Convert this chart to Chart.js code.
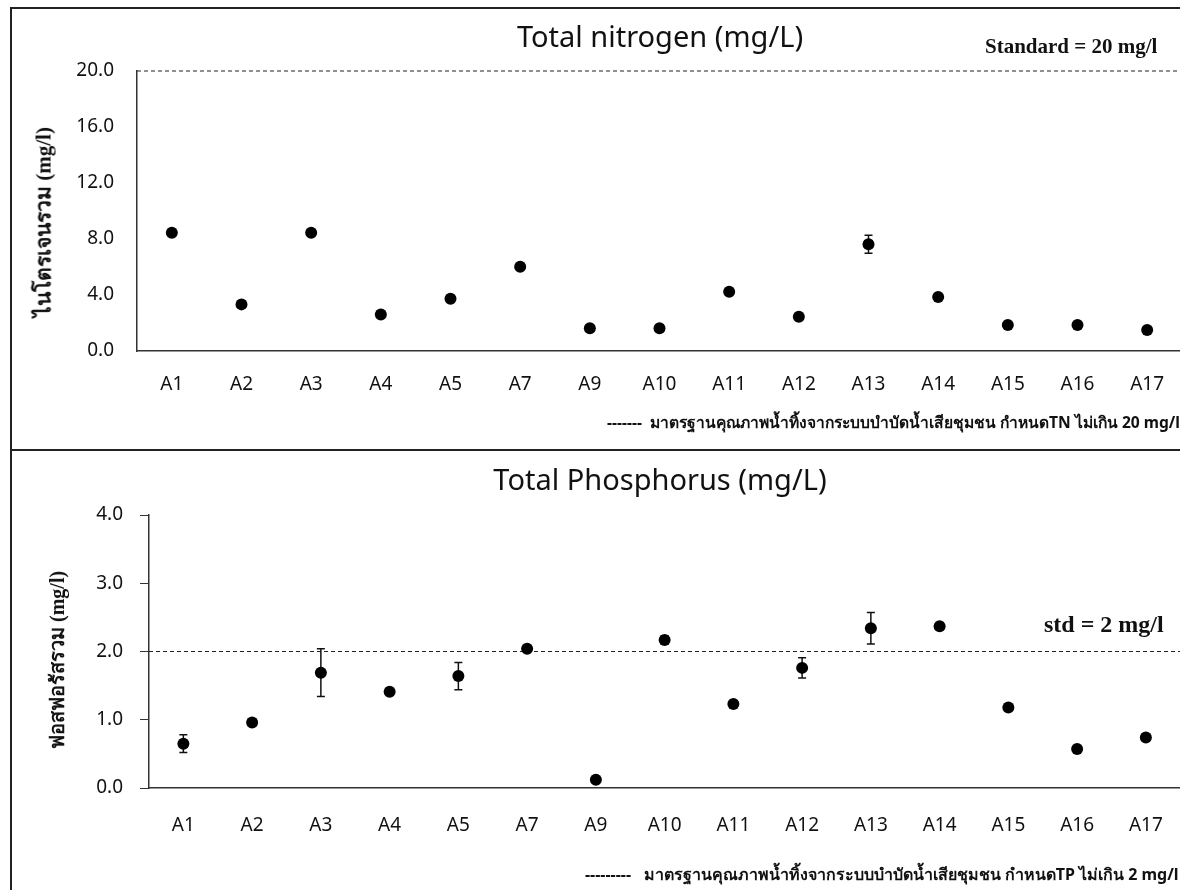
<!DOCTYPE html>
<html>
<head>
<meta charset="utf-8">
<script src="https://cdn.jsdelivr.net/npm/chart.js@4/dist/chart.umd.min.js"></script>
<style>
  html, body { margin: 0; padding: 0; background: #fff; overflow: hidden; width: 1180px; height: 890px; }
  .box { position: absolute; border-left: 2px solid #222; }
  #boxTop { left: 10px; top: 7px; width: 1200px; height: 440px; border-top: 2px solid #222; border-bottom: 2px solid #222; }
  #boxBot { left: 10px; top: 449px; width: 1200px; height: 450px; }
  .wrap { position: absolute; left: 0; }
  .title { position: absolute; font-family: "Noto Sans", sans-serif; font-size: 29px; color: #111; transform: translate(-50%, -50%); white-space: nowrap; }
  .ytitle { position: absolute; font-family: "Liberation Serif", serif; font-weight: bold; color: #111;
            transform: translate(-50%, -50%) rotate(-90deg); white-space: nowrap; }
  .std { position: absolute; font-family: "Liberation Serif", serif; font-weight: bold; color: #111; white-space: nowrap; transform: translateY(-50%); }
  .note { position: absolute; font-family: "Noto Sans", sans-serif; font-weight: bold; color: #111; white-space: nowrap; transform: translateY(-50%); }
</style>
</head>
<body>
<div class="box" id="boxTop"></div>
<div class="box" id="boxBot"></div>

<div class="wrap" style="top:0;"><canvas id="tnChart" width="1188" height="449"></canvas></div>
<div class="wrap" style="top:449px;"><canvas id="tpChart" width="1189" height="441"></canvas></div>

<div class="title" style="left:660px; top:35px;">Total nitrogen (mg/L)</div>
<div class="std" style="left:985px; top:46px; font-size:21px;">Standard = 20 mg/l</div>
<div class="ytitle" style="left:43px; top:222px; font-size:21px;">ไนโตรเจนรวม (mg/l)</div>
<div class="note" style="left:607px; top:422px; font-size:15.6px;">-------&nbsp; มาตรฐานคุณภาพน้ำทิ้งจากระบบบำบัดน้ำเสียชุมชน กำหนดTN ไม่เกิน 20 mg/l</div>

<div class="title" style="left:660px; top:478px;">Total Phosphorus (mg/L)</div>
<div class="std" style="left:1044px; top:624px; font-size:24px;">std = 2 mg/l</div>
<div class="ytitle" style="left:57px; top:660px; font-size:20px;">ฟอสฟอรัสรวม (mg/l)</div>
<div class="note" style="left:585px; top:874px; font-size:16px;">---------&nbsp;&nbsp; มาตรฐานคุณภาพน้ำทิ้งจากระบบบำบัดน้ำเสียชุมชน กำหนดTP ไม่เกิน 2 mg/l</div>

<script>
// --- DATA ---
const sites = ['A1', 'A2', 'A3', 'A4', 'A5', 'A7', 'A9', 'A10', 'A11', 'A12', 'A13', 'A14', 'A15', 'A16', 'A17'];

const tnMean = [8.45, 3.33, 8.45, 2.6, 3.74, 6.02, 1.62, 1.62, 4.24, 2.45, 7.62, 3.86, 1.86, 1.86, 1.5];
const tnErr  = [0.1, 0.1, 0.15, 0.05, 0.12, 0.05, 0.05, 0.05, 0.05, 0.05, 0.64, 0.05, 0.05, 0.15, 0.05];
const tnStd = 20;
const tnTicks = [0, 4, 8, 12, 16, 20];

const tpMean = [0.65, 0.96, 1.69, 1.41, 1.64, 2.04, 0.12, 2.17, 1.23, 1.76, 2.34, 2.37, 1.18, 0.57, 0.74];
const tpErr  = [0.13, 0.02, 0.35, 0.03, 0.2, 0.03, 0.01, 0.06, 0.02, 0.15, 0.23, 0.02, 0.02, 0.02, 0.02];
const tpStd = 2;
const tpTicks = [0, 1, 2, 3, 4];

// error bars + dashed standard line, drawn through the chart's scales
const extrasPlugin = {
  id: 'extras',
  beforeDatasetsDraw(chart, args, opts) {
    const { ctx, chartArea, scales } = chart;
    const y = scales.y;
    // standard line
    const ys = y.getPixelForValue(opts.std);
    ctx.save();
    ctx.strokeStyle = '#222';
    ctx.lineWidth = 1;
    ctx.setLineDash([4, 3]);
    ctx.beginPath();
    ctx.moveTo(chartArea.left, ys);
    ctx.lineTo(chartArea.right, ys);
    ctx.stroke();
    ctx.setLineDash([]);
    // error bars
    const meta = chart.getDatasetMeta(0);
    const means = chart.data.datasets[0].data;
    ctx.strokeStyle = '#111';
    ctx.lineWidth = 1.5;
    meta.data.forEach((pt, i) => {
      const e = opts.err[i];
      if (!e) return;
      const top = y.getPixelForValue(means[i] + e);
      const bot = y.getPixelForValue(means[i] - e);
      ctx.beginPath();
      ctx.moveTo(pt.x, top); ctx.lineTo(pt.x, bot);
      ctx.moveTo(pt.x - 4, top); ctx.lineTo(pt.x + 4, top);
      ctx.moveTo(pt.x - 4, bot); ctx.lineTo(pt.x + 4, bot);
      ctx.stroke();
    });
    ctx.restore();
  }
};

function makeChart(id, means, errs, std, ticks, cfg) {
  return new Chart(document.getElementById(id), {
    type: 'line',
    data: {
      labels: sites,
      datasets: [{
        data: means,
        showLine: false,
        pointRadius: 6,
        pointHoverRadius: 6,
        pointBackgroundColor: '#000',
        pointBorderColor: '#000',
        pointBorderWidth: 0
      }]
    },
    options: {
      responsive: false,
      animation: false,
      events: [],
      layout: { padding: { left: 0, right: 0, top: cfg.top, bottom: cfg.bottom } },
      plugins: {
        legend: { display: false },
        tooltip: { enabled: false },
        extras: { std: std, err: errs }
      },
      scales: {
        x: {
          type: 'category',
          offset: true,
          grid: { display: false, drawTicks: false },
          border: { display: true, color: '#333', width: 1.5 },
          ticks: { color: '#111', padding: cfg.xPad, font: { family: 'Noto Sans', size: 19 }, maxRotation: 0, autoSkip: false },
          afterFit(scale) { scale.height = 60; }
        },
        y: {
          min: ticks[0],
          max: ticks[ticks.length - 1],
          afterBuildTicks(scale) { scale.ticks = ticks.map(v => ({ value: v })); },
          grid: { display: cfg.tickLen > 0, drawOnChartArea: false, drawTicks: cfg.tickLen > 0, tickLength: cfg.tickLen, color: '#333' },
          border: { display: true, color: '#333', width: 1.5 },
          ticks: { color: '#111', padding: cfg.yPad, font: { family: 'Noto Sans', size: 19 }, callback: v => Number(v).toFixed(1) },
          afterFit(scale) { scale.width = cfg.left; }
        }
      }
    },
    plugins: [extrasPlugin]
  });
}

makeChart('tnChart', tnMean, tnErr, tnStd, tnTicks, { top: 71, bottom: 38, left: 137, xPad: 22, yPad: 23, tickLen: 0 });
makeChart('tpChart', tpMean, tpErr, tpStd, tpTicks, { top: 66, bottom: 42, left: 149, xPad: 26, yPad: 17, tickLen: 9 });
</script>
</body>
</html>
